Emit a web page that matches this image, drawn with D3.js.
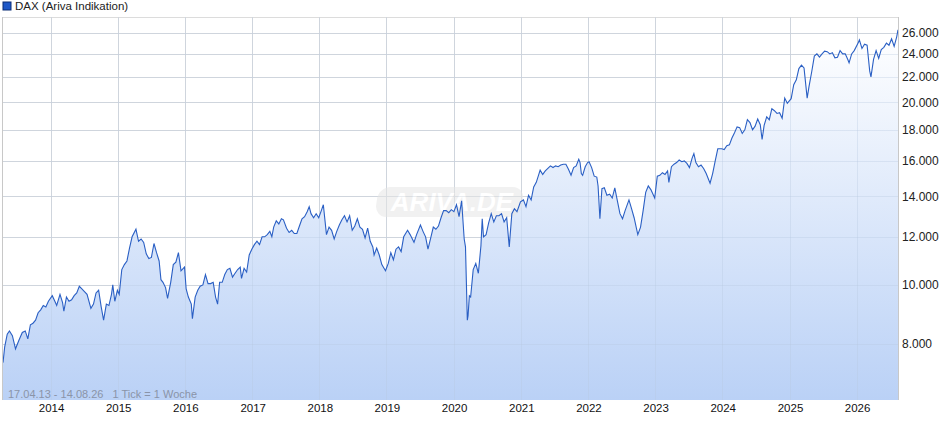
<!DOCTYPE html>
<html><head><meta charset="utf-8">
<script src="https://cdn.jsdelivr.net/npm/d3@7"></script>
<style>body{margin:0;background:#fff}svg{font-family:Arial,"Liberation Sans",sans-serif}</style>
</head><body><svg id="c" width="940" height="435"></svg>
<script>
const dates = ["2013-04-17","2013-04-26","2013-05-10","2013-05-22","2013-06-07","2013-06-24","2013-07-12","2013-07-31","2013-08-16","2013-08-30","2013-09-13","2013-09-27","2013-10-11","2013-10-25","2013-11-08","2013-11-22","2013-12-06","2013-12-20",
"2014-01-10","2014-01-24","2014-02-03","2014-02-21","2014-03-07","2014-03-14","2014-03-28","2014-04-11","2014-04-25","2014-05-09","2014-05-23","2014-06-06","2014-06-20","2014-07-04","2014-07-18","2014-08-08","2014-08-22","2014-09-05","2014-09-19","2014-10-03","2014-10-16","2014-10-31","2014-11-14","2014-11-28","2014-12-05","2014-12-16","2014-12-30",
"2015-01-09","2015-01-23","2015-02-06","2015-02-20","2015-03-06","2015-03-20","2015-04-10","2015-04-24","2015-05-08","2015-05-22","2015-06-05","2015-06-19","2015-07-03","2015-07-17","2015-07-31","2015-08-14","2015-08-24","2015-09-04","2015-09-18","2015-09-29","2015-10-16","2015-10-30","2015-11-13","2015-11-27","2015-12-11","2015-12-30",
"2016-01-08","2016-01-20","2016-02-05","2016-02-11","2016-02-26","2016-03-11","2016-03-24","2016-04-08","2016-04-22","2016-05-06","2016-05-20","2016-06-03","2016-06-16","2016-06-27","2016-07-08","2016-07-22","2016-08-05","2016-08-19","2016-09-02","2016-09-16","2016-09-30","2016-10-14","2016-10-28","2016-11-04","2016-11-18","2016-12-02","2016-12-16","2016-12-30",
"2017-01-13","2017-01-27","2017-02-10","2017-02-24","2017-03-10","2017-03-24","2017-04-07","2017-04-18","2017-04-28","2017-05-12","2017-05-26","2017-06-09","2017-06-20","2017-07-07","2017-07-21","2017-08-04","2017-08-18","2017-09-01","2017-09-15","2017-09-29","2017-10-13","2017-10-27","2017-11-07","2017-11-17","2017-12-01","2017-12-15","2017-12-29",
"2018-01-12","2018-01-23","2018-02-09","2018-02-23","2018-03-09","2018-03-23","2018-04-06","2018-04-20","2018-05-04","2018-05-18","2018-06-01","2018-06-15","2018-06-29","2018-07-13","2018-07-27","2018-08-10","2018-08-24","2018-09-07","2018-09-21","2018-10-05","2018-10-19","2018-10-26","2018-11-09","2018-11-23","2018-12-07","2018-12-27",
"2019-01-11","2019-01-25","2019-02-08","2019-02-22","2019-03-08","2019-03-22","2019-04-05","2019-04-26","2019-05-10","2019-05-31","2019-06-14","2019-07-05","2019-07-19","2019-08-02","2019-08-15","2019-08-30","2019-09-13","2019-09-27","2019-10-11","2019-10-25","2019-11-08","2019-11-22","2019-12-06","2019-12-20",
"2020-01-03","2020-01-17","2020-01-31","2020-02-14","2020-02-28","2020-03-06","2020-03-16","2020-03-20","2020-03-27","2020-04-03","2020-04-17","2020-05-01","2020-05-15","2020-05-29","2020-06-05","2020-06-12","2020-06-26","2020-07-10","2020-07-24","2020-08-07","2020-08-21","2020-09-04","2020-09-18","2020-10-02","2020-10-16","2020-10-30","2020-11-13","2020-11-27","2020-12-11","2020-12-30",
"2021-01-15","2021-01-29","2021-02-12","2021-02-26","2021-03-12","2021-03-26","2021-04-16","2021-04-30","2021-05-14","2021-05-28","2021-06-11","2021-06-25","2021-07-09","2021-07-23","2021-08-06","2021-08-20","2021-09-03","2021-09-17","2021-10-01","2021-10-15","2021-10-29","2021-11-12","2021-11-19","2021-11-26","2021-12-03","2021-12-17","2021-12-30",
"2022-01-07","2022-01-21","2022-02-04","2022-02-18","2022-02-25","2022-03-07","2022-03-18","2022-03-31","2022-04-14","2022-04-29","2022-05-13","2022-05-27","2022-06-10","2022-06-24","2022-07-08","2022-07-22","2022-08-12","2022-08-26","2022-09-09","2022-09-29","2022-10-14","2022-10-28","2022-11-11","2022-11-25","2022-12-09","2022-12-30",
"2023-01-13","2023-01-27","2023-02-10","2023-02-24","2023-03-10","2023-03-17","2023-03-31","2023-04-14","2023-04-28","2023-05-12","2023-05-26","2023-06-09","2023-06-23","2023-07-07","2023-07-21","2023-07-31","2023-08-11","2023-08-25","2023-09-08","2023-09-22","2023-10-06","2023-10-27","2023-11-10","2023-11-24","2023-12-08","2023-12-29",
"2024-01-12","2024-01-26","2024-02-09","2024-02-23","2024-03-08","2024-03-22","2024-04-05","2024-04-19","2024-05-03","2024-05-17","2024-05-31","2024-06-14","2024-06-28","2024-07-12","2024-07-26","2024-08-05","2024-08-16","2024-08-30","2024-09-13","2024-09-27","2024-10-11","2024-10-25","2024-11-08","2024-11-22","2024-12-06","2024-12-20",
"2025-01-10","2025-01-24","2025-02-07","2025-02-21","2025-03-07","2025-03-21","2025-04-07","2025-04-17","2025-05-02","2025-05-16","2025-05-30","2025-06-13","2025-06-27","2025-07-11","2025-07-25","2025-08-08","2025-08-22","2025-09-05","2025-09-19","2025-10-03","2025-10-17","2025-10-31","2025-11-14","2025-11-21","2025-12-05","2025-12-19",
"2026-01-09","2026-01-16","2026-01-30","2026-02-13","2026-02-27","2026-03-13","2026-03-20","2026-04-03","2026-04-17","2026-05-01","2026-05-15","2026-05-29","2026-06-12","2026-06-26","2026-07-10","2026-07-24","2026-08-07","2026-08-14"];
const values = [7450,7900,8300,8400,8250,7850,8100,8350,8400,8150,8600,8650,8750,9000,9100,9250,9200,9400,
9600,9400,9250,9650,9350,9050,9550,9400,9450,9600,9700,9950,9850,9750,9650,9150,9300,9700,9800,9200,8750,9300,9250,9650,10000,9400,9800,
9650,10600,10800,10950,11500,12000,12350,11800,11900,11750,11250,11050,11100,11700,11300,10950,10200,10100,9900,9500,10100,10800,10900,11300,10550,10700,
9850,9550,9300,8800,9550,9800,9950,10000,10400,10050,10050,10100,9550,9300,10100,10100,10400,10600,10650,10300,10450,10600,10700,10250,10650,10500,11200,11450,
11650,11800,11650,12000,12000,12100,12250,12000,12450,12750,12600,12850,12800,12400,12200,12300,12150,12150,12500,12850,12950,13200,13450,13100,12900,13100,12900,
13250,13550,12100,12450,12300,11900,12250,12550,12800,13000,12700,13000,12300,12500,12850,12450,12350,11950,12400,11800,11550,11200,11500,11200,10800,10550,
10850,11300,11000,11450,11550,11350,12000,12300,12100,11750,12100,12550,12250,12000,11450,11950,12450,12350,12500,12900,13250,13250,13150,13300,
13200,13550,12950,13750,11900,11550,8750,8900,9600,9550,10600,10850,10450,11600,12850,12000,12100,12650,13100,12700,13000,13000,13100,12700,12900,11550,13100,13350,13200,13700,
13800,13450,14050,13800,14500,14750,15450,15200,15400,15550,15700,15600,15700,15650,15750,15800,15800,15500,15150,15600,15700,16100,15900,15250,15150,15650,15900,
15950,15600,15100,15050,14550,12850,14400,14450,14050,14100,13900,14450,13750,13100,12850,13250,13800,13350,12900,12100,12450,13250,14200,14550,14350,13900,
15100,15150,15300,15200,15400,14750,15650,15800,15900,16050,15950,16000,15850,15600,16150,16450,15900,15650,15750,15550,15250,14700,15250,16000,16750,16750,
16700,16950,17000,17450,17800,18200,18150,17750,18000,18700,18500,18000,18250,18750,18350,17350,18300,18900,18700,19500,19350,19150,19200,18800,20300,19900,
20250,21350,21750,22700,23000,22750,20300,21200,22450,23800,24000,23700,24000,24250,24200,24000,24100,23650,23700,24300,24000,24000,23500,23200,24000,24300,
25000,25300,24500,24900,24800,22500,22000,23500,24300,23600,24400,24600,25000,24800,25400,24700,25600,26300];

const W=940,H=435,L=3,R=898,T=17,B=400;
const parse=d3.timeParse("%Y-%m-%d");
const data=dates.map((d,i)=>({d:parse(d),v:values[i]}));
const yTicks=[8000,10000,12000,14000,16000,18000,20000,22000,24000,26000];
const xYears=[2014,2015,2016,2017,2018,2019,2020,2021,2022,2023,2024,2025,2026];
const x=d3.scaleTime().domain([parse("2013-04-17"),parse("2026-08-14")]).range([L,R]);
const y=d3.scaleLog().domain([6466,27600]).range([B,T]);
const svg=d3.select("#c");
const defs=svg.append("defs");
const g=defs.append("linearGradient").attr("id","fg").attr("x1",0).attr("x2",0).attr("y1",0).attr("y2",1);
g.append("stop").attr("offset","0%").attr("stop-color","#ffffff");
g.append("stop").attr("offset","100%").attr("stop-color","#bad1f6");
defs.append("clipPath").attr("id","cp").append("rect").attr("x",L).attr("y",T).attr("width",R-L).attr("height",B-T);

// grid
svg.append("g").selectAll("line").data(yTicks).join("line")
 .attr("x1",L).attr("x2",R).attr("y1",d=>Math.round(y(d))+.5).attr("y2",d=>Math.round(y(d))+.5).attr("stroke","#dcdcdc");
svg.append("g").selectAll("line").data(xYears).join("line")
 .attr("x1",d=>Math.round(x(new Date(d,0,1)))+.5).attr("x2",d=>Math.round(x(new Date(d,0,1)))+.5).attr("y1",T).attr("y2",B).attr("stroke","#dcdcdc");
svg.append("line").attr("x1",L).attr("x2",R).attr("y1",T+.5).attr("y2",T+.5).attr("stroke","#dcdcdc");

const area=d3.area().x(d=>x(d.d)).y0(B).y1(d=>y(d.v));
svg.append("path").datum(data).attr("d",area).attr("fill","url(#fg)").attr("clip-path","url(#cp)");
// gridlines over area faintly
svg.append("g").selectAll("line").data(xYears).join("line")
 .attr("x1",d=>Math.round(x(new Date(d,0,1)))+.5).attr("x2",d=>Math.round(x(new Date(d,0,1)))+.5).attr("y1",T).attr("y2",B).attr("stroke","#b8c8e0").attr("stroke-opacity",0.35);
svg.append("g").selectAll("line").data(yTicks).join("line")
 .attr("x1",L).attr("x2",R).attr("y1",d=>Math.round(y(d))+.5).attr("y2",d=>Math.round(y(d))+.5).attr("stroke","#b8c8e0").attr("stroke-opacity",0.35);

// watermark
const wm=svg.append("g").attr("opacity",0.55);
wm.append("rect").attr("x",377).attr("y",187).attr("width",146).attr("height",30).attr("rx",12).attr("fill","#e6e6e6").attr("transform","skewX(-8) translate(28,0)");
wm.append("text").attr("x",452).attr("y",211).attr("text-anchor","middle").attr("font-size",26).attr("font-style","italic").attr("font-weight","bold").attr("fill","#ffffff").text("ARIVA.DE");

svg.append("path").datum(data).attr("d",d3.line().x(d=>x(d.d)).y(d=>y(d.v))).attr("fill","none").attr("stroke","#2a5fc4").attr("stroke-width",1.1).attr("clip-path","url(#cp)");

svg.append("line").attr("x1",R+.5).attr("x2",R+.5).attr("y1",T).attr("y2",B).attr("stroke","#c8c8c8");
svg.append("line").attr("x1",L-.5).attr("x2",L-.5).attr("y1",T).attr("y2",B).attr("stroke","#c8c8c8");

const fmt=d=>d3.format(",")(d).replace(/,/g,".")+"";
svg.append("g").selectAll("text").data(yTicks).join("text").attr("x",902).attr("y",d=>y(d)+4.5)
 .attr("font-size",12).attr("fill","#222").text(d=>d3.format(",.0f")(d).replace(",","."));
svg.append("g").selectAll("text").data(xYears).join("text").attr("x",d=>x(new Date(d,0,1))+1).attr("y",412)
 .attr("text-anchor","middle").attr("font-size",11.5).attr("fill","#111").text(d=>d);

svg.append("rect").attr("x",3).attr("y",2).attr("width",8).attr("height",8).attr("fill","#1f58c7").attr("stroke","#0b2d75");
svg.append("text").attr("x",15).attr("y",10).attr("font-size",11.5).attr("fill","#222").text("DAX (Ariva Indikation)");
svg.append("text").attr("x",8).attr("y",398).attr("font-size",11).attr("fill","#8a94a8").text("17.04.13 - 14.08.26   1 Tick = 1 Woche").style("white-space","pre");
</script></body></html>
